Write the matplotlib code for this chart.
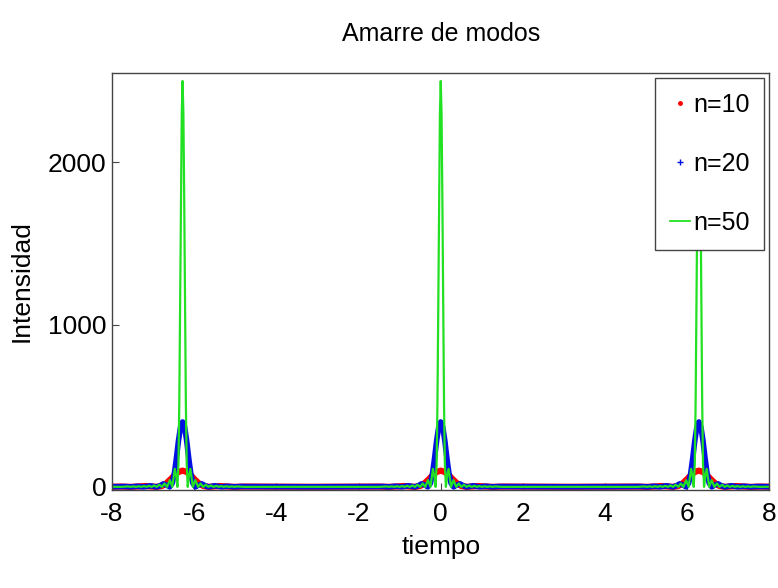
import matplotlib
matplotlib.use('Agg')
import matplotlib.pyplot as plt
from matplotlib.lines import Line2D
import numpy as np

plt.rcParams['font.family'] = ['Liberation Sans Narrow', 'Liberation Sans', 'DejaVu Sans']

# peak positions (t = -2pi, 0, 2pi)
peak_centers = [-6.2832, 0.0, 6.2832]

# baseline between peaks (all series stay near zero there)
base_t = [-8.0, -3.14, 3.14, 8.0]
base_v = [1.0, 0.5, 0.5, 1.0]

# n=10 peak profile (offset from peak centre, intensity)
n10_dt = [-1.5, -1.26, -1.05, -0.9, -0.75, -0.63, -0.5, -0.4, -0.3, -0.2, -0.1, 0.0,
          0.1, 0.2, 0.3, 0.4, 0.5, 0.63, 0.75, 0.9, 1.05, 1.26, 1.5]
n10_val = [1.9, 0, 2.9, 5.1, 2.4, 0, 5.9, 20.9, 44.6, 71, 92, 100,
           92, 71, 44.6, 20.9, 5.9, 0, 2.4, 5.1, 2.9, 0, 1.9]

# n=20 peak profile
n20_dt = [-1.5, -1.41, -1.26, -1.1, -0.94, -0.79, -0.63, -0.55, -0.47, -0.38, -0.314,
          -0.25, -0.2, -0.15, -0.1, -0.05, 0.0, 0.05, 0.1, 0.15, 0.2, 0.25,
          0.314, 0.38, 0.47, 0.55, 0.63, 0.79, 0.94, 1.1, 1.26, 1.41, 1.5]
n20_val = [1.9, 2.4, 0, 3.7, 0, 6.7, 0, 6.8, 18.5, 10.5, 0,
           23, 83, 177, 284, 368, 400, 368, 284, 177, 83, 23,
           0, 10.5, 18.5, 6.8, 0, 6.7, 0, 3.7, 0, 2.4, 1.9]

# n=50 peak profile
n50_dt = [-1.5, -1.32, -1.26, -1.2, -1.13, -1.07, -1.0, -0.94, -0.88, -0.82, -0.75,
          -0.69, -0.63, -0.565, -0.5, -0.44, -0.377, -0.31, -0.25, -0.19, -0.15,
          -0.1257, -0.1, -0.08, -0.06, -0.04, -0.02, 0.0, 0.02, 0.04, 0.06, 0.08,
          0.1, 0.1257, 0.15, 0.19, 0.25, 0.31, 0.377, 0.44, 0.5, 0.565, 0.63,
          0.69, 0.75, 0.82, 0.88, 0.94, 1.0, 1.07, 1.13, 1.2, 1.26, 1.32, 1.5]
n50_val = [0.1, 2.7, 0, 3.1, 0, 3.8, 0.1, 4.9, 0, 6.3, 0,
           8.7, 0, 13, 0, 20.9, 0, 41.6, 0, 111, 58,
           0, 143, 517, 1106, 1770, 2298, 2500, 2298, 1770, 1106, 517,
           143, 0, 58, 111, 0, 41.6, 0, 20.9, 0, 13, 0,
           8.7, 0, 6.3, 0, 4.9, 0.1, 3.8, 0, 3.1, 0, 2.7, 0.1]

x_ticks = [-8, -6, -4, -2, 0, 2, 4, 6, 8]
y_ticks = [0, 1000, 2000]


def build_series(dt, val):
    t = list(base_t)
    v = list(base_v)
    for c in peak_centers:
        t += [c + d for d in dt]
        v += list(val)
    t = np.array(t)
    v = np.array(v)
    order = np.argsort(t)
    return t[order], v[order]


def plot_modos():
    fig = plt.figure(figsize=(7.78, 5.88), dpi=100)
    ax = fig.add_axes([0.144, 0.167, 0.845, 0.709])

    t10, v10 = build_series(n10_dt, n10_val)
    t20, v20 = build_series(n20_dt, n20_val)
    t50, v50 = build_series(n50_dt, n50_val)

    ax.plot(t10, v10, color='#ff0000', lw=4.5, solid_joinstyle='round')
    ax.plot(t20, v20, color='#0010e0', lw=4, solid_joinstyle='round')
    ax.plot(t50, v50, color='#22e022', lw=1.6)

    ax.set_xlim(-8, 8)
    ax.set_ylim(-18, 2550)
    ax.set_xticks(x_ticks)
    ax.set_xticklabels([str(x) for x in x_ticks])
    ax.set_yticks(y_ticks)
    ax.tick_params(direction='in', length=5, labelsize=19, color='#444444')
    ax.tick_params(axis='x', pad=9)
    ax.tick_params(axis='y', pad=4)
    for s in ax.spines.values():
        s.set_color('#444444')
        s.set_linewidth(1.0)

    ax.set_title('Amarre de modos', fontsize=18, pad=23)
    ax.set_xlabel('tiempo', fontsize=19, labelpad=6)
    ax.set_ylabel('Intensidad', fontsize=19, labelpad=10)

    handles = [
        Line2D([], [], color='#ff0000', marker='.', ls='none', markersize=5),
        Line2D([], [], color='#0010e0', marker='+', ls='none', markersize=4, mew=1),
        Line2D([], [], color='#22e022', lw=1.3),
    ]
    ax.legend(handles, ['n=10', 'n=20', 'n=50'], loc='upper right', fontsize=18,
              frameon=True, fancybox=False, edgecolor='#444444', framealpha=1,
              handlelength=0.8, handletextpad=0.1, borderpad=0.6,
              labelspacing=1.4, borderaxespad=0.2)

    plt.savefig('out.png', dpi=100)


if __name__ == '__main__':
    plot_modos()
